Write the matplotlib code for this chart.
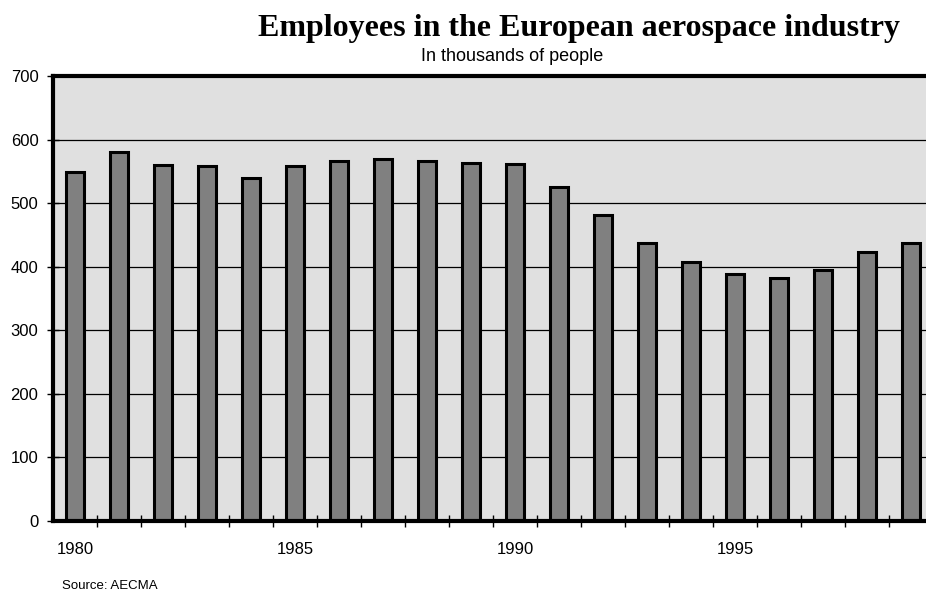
import matplotlib.pyplot as plt
import numpy as np

years = list(range(1980, 2000))
employees = [549, 580, 560, 559, 540, 558, 566, 570, 566, 563,
             561, 525, 481, 438, 408, 388, 383, 395, 423, 437]
year_labels = ["1980", "1985", "1990", "1995"]
y_ticks = [0, 100, 200, 300, 400, 500, 600, 700]

fig = plt.figure(figsize=(9.26, 5.93), dpi=100)
ax = fig.add_axes([53 / 926, 72 / 593, 880 / 926, 445 / 593])
ax.set_facecolor("#e0e0e0")

ax.bar(years, employees, width=0.43, color="#808080",
       edgecolor="black", linewidth=2.2, zorder=3)

ax.set_xlim(years[0] - 0.5, years[-1] + 0.5)
ax.set_ylim(0, 700)

ax.set_yticks(y_ticks)
ax.set_yticklabels([str(v) for v in y_ticks], fontsize=12,
                   family="Liberation Sans")
for v in y_ticks[1:-1]:
    ax.axhline(v, color="black", linewidth=0.9, zorder=1)

# year labels sit under the bars, tick marks sit between them
ax.set_xticks([int(s) for s in year_labels])
ax.set_xticklabels(year_labels, fontsize=12, family="Liberation Sans")
ax.tick_params(axis="x", which="major", length=0, pad=15)
ax.set_xticks(np.arange(years[0] + 0.5, years[-1] + 0.5, 1), minor=True)
ax.tick_params(axis="x", which="minor", length=9, width=1,
               direction="inout", color="black")
ax.tick_params(axis="y", length=9, width=1, direction="inout", pad=6)

for side in ["left", "bottom", "top"]:
    ax.spines[side].set_linewidth(3)
    ax.spines[side].set_zorder(5)
ax.spines["right"].set_visible(False)

fig.text(0.6255, 1 - 36 / 593, "Employees in the European aerospace industry",
         ha="center", va="baseline", fontsize=23, fontweight="bold",
         family="Liberation Serif")
fig.text(0.553, 1 - 61 / 593, "In thousands of people", ha="center",
         va="baseline", fontsize=13, family="Liberation Sans")
fig.text(0.067, 1 - 586 / 593, "Source: AECMA", ha="left", va="center",
         fontsize=9.5, family="Liberation Sans")

fig.savefig("out.png", dpi=100)
